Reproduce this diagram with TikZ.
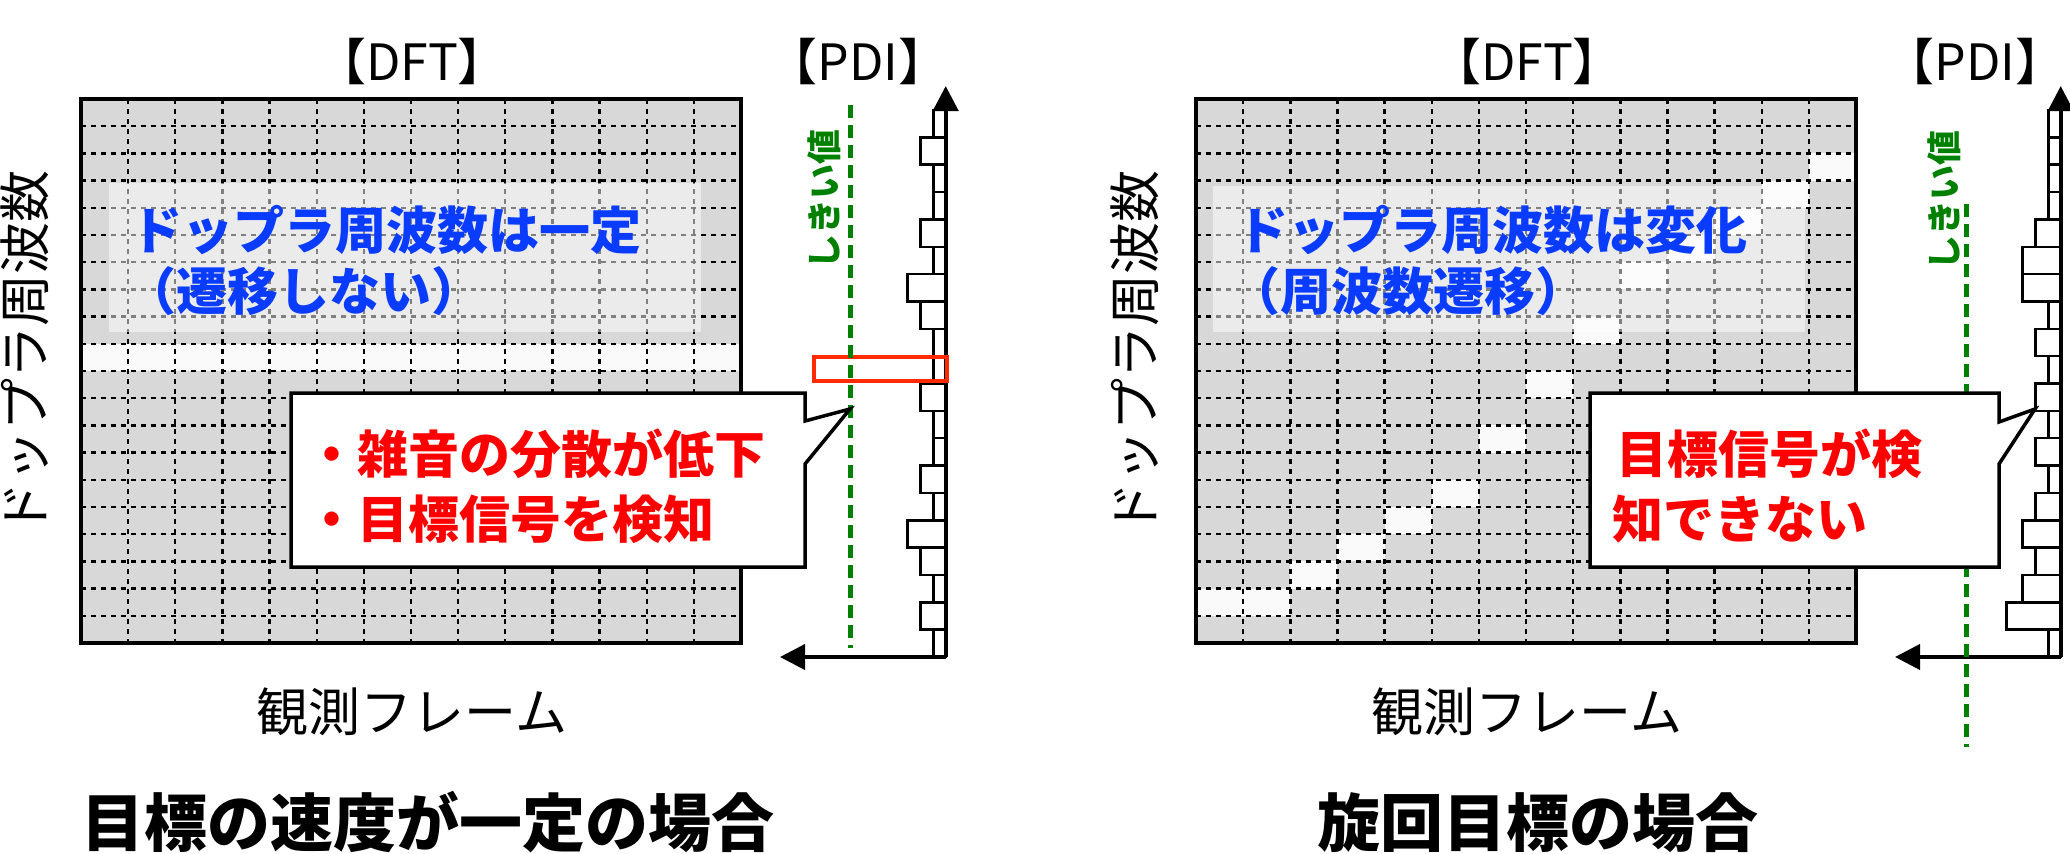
\documentclass[tikz,border=0pt]{standalone}
\usepackage{fontspec}
\setmainfont{Noto Sans CJK JP}
\usetikzlibrary{arrows.meta}
\definecolor{boxgray}{HTML}{D8D8D8}
\definecolor{cellwhite}{HTML}{FAFAFA}
\definecolor{txtblue}{HTML}{0A3CFF}
\definecolor{txtred}{HTML}{FF0000}
\definecolor{thrgreen}{HTML}{008000}
\definecolor{markred}{HTML}{FF2A00}
\begin{document}
\begin{tikzpicture}[x=1pt,y=-1pt,
  gridline/.style={black, line width=2.4pt, dash pattern=on 5pt off 5pt},
  boxframe/.style={draw=black, line width=4pt},
  overlay/.style={fill=white, fill opacity=0.5},
  whitecell/.style={fill=cellwhite},
  barbox/.style={draw=black, fill=white, line width=2.5pt},
  axisline/.style={line width=4pt, -{Triangle[length=25pt,width=25pt]}},
  thrline/.style={thrgreen, line width=5pt, dash pattern=on 13pt off 7pt},
  callout/.style={draw=black, fill=white, line width=3.5pt, line join=miter},
  marker/.style={draw=markred, line width=4pt},
  bluetxt/.style={text=txtblue, font=\bfseries\fontsize{51}{60}\selectfont, inner sep=0pt},
  redtxt/.style={text=txtred, font=\bfseries\fontsize{51}{60}\selectfont, inner sep=0pt},
  thrtxt/.style={text=thrgreen, font=\bfseries\fontsize{35}{40}\selectfont, inner sep=0pt, rotate=90},
  headtxt/.style={font=\fontsize{50}{56}\selectfont, inner sep=0pt},
  axtxt/.style={font=\fontsize{52}{60}\selectfont, inner sep=0pt},
  titletxt/.style={font=\bfseries\fontsize{63}{70}\selectfont, inner sep=0pt}
]
\useasboundingbox (0,0) rectangle (2070,854);

% ================= LEFT PANEL =================
\fill[boxgray] (81,99) rectangle (741,643);
\fill[whitecell] (81,{99+9*27.2}) rectangle (741,{99+10*27.2});
\foreach \i in {1,...,13} \draw[gridline] ({81+\i*660/14},99) -- ({81+\i*660/14},643);
\foreach \j in {1,...,19} \draw[gridline] (81,{99+\j*27.2}) -- (741,{99+\j*27.2});
\fill[overlay] (109,183) rectangle (701,332);
\draw[boxframe] (81,99) rectangle (741,643);

\node[bluetxt, anchor=base west] (LB1) at (131,249) {ドップラ周波数は一定};
\node[bluetxt, anchor=base west] (LB2) at (125,310) {（遷移しない）};

% PDI bars
\foreach \w [count=\k from 0] in {12,25,12,12,25,12,38,25,12,12,25,12,12,25,12,38,25,12,25,12}
  \draw[barbox] ({945.7-\w},{110+\k*27.35}) rectangle (945.7,{110+(\k+1)*27.35});
\coordinate (Lorig) at (945.7,657);
\coordinate (Lxtip) at (780,657);
\coordinate (Lytip) at (945.7,86);
\draw[axisline] (Lorig) -- (Lxtip);
\draw[axisline] (Lorig) -- (Lytip);
\draw[marker] (813.5,356.5) rectangle (946.5,380.5);
\coordinate (Lthr1) at (850,105);
\coordinate (Lthr2) at (850,648);
\draw[thrline] (Lthr1) -- (Lthr2);
\node[thrtxt] (Lthr) at (824,199) {しきい値};

\draw[callout] (291,393) -- (805,393) -- (805,421) -- (850,409) -- (805,464) -- (805,567) -- (291,567) -- cycle;
\node[redtxt, anchor=base west] (LR1) at (306,473) {・雑音の分散が低下};
\node[redtxt, anchor=base west] (LR2) at (306,538) {・目標信号を検知};

\node[headtxt, anchor=base] (LDFT) at (412,80) {【DFT】};
\node[headtxt, anchor=base] (LPDI) at (858,80) {【PDI】};
\node[axtxt, anchor=base] (LX) at (412,731) {観測フレーム};
\node[axtxt, rotate=90] (LY) at (25,352) {ドップラ周波数};
\node[titletxt, anchor=base] (LT) at (428,846) {目標の速度が一定の場合};

% ================= RIGHT PANEL =================
\begin{scope}[xshift=1115pt]
\fill[boxgray] (81,99) rectangle (741,643);
\foreach \c/\r in {0/18,1/18,2/17,3/16,4/15,5/14,6/12,7/10,8/8,9/6,10/5,11/4,12/3,13/2}
  \fill[whitecell] ({81+\c*660/14},{99+\r*27.2}) rectangle ({81+(\c+1)*660/14},{99+(\r+1)*27.2});
\foreach \i in {1,...,13} \draw[gridline] ({81+\i*660/14},99) -- ({81+\i*660/14},643);
\foreach \j in {1,...,19} \draw[gridline] (81,{99+\j*27.2}) -- (741,{99+\j*27.2});
\fill[overlay] (98,186) rectangle (690,332);
\draw[boxframe] (81,99) rectangle (741,643);

\node[bluetxt, anchor=base west] (RB1) at (122,249) {ドップラ周波数は変化};
\node[bluetxt, anchor=base west] (RB2) at (114,310) {（周波数遷移）};

\foreach \w [count=\k from 0] in {12,12,12,12,25,38,38,12,25,12,25,12,25,12,25,38,25,38,54,12}
  \draw[barbox] ({945.7-\w},{110+\k*27.35}) rectangle (945.7,{110+(\k+1)*27.35});
\coordinate (Rorig) at (945.7,657);
\coordinate (Rxtip) at (780,657);
\coordinate (Rytip) at (945.7,86);
\draw[axisline] (Rorig) -- (Rxtip);
\draw[axisline] (Rorig) -- (Rytip);
\coordinate (Rthr1) at (851,204);
\coordinate (Rthr2) at (851,747);
\draw[thrline] (Rthr1) -- (Rthr2);
\node[thrtxt] (Rthr) at (829,200) {しきい値};

\draw[callout] (475,393) -- (884,393) -- (884,422) -- (920,409) -- (884,464) -- (884,567) -- (475,567) -- cycle;
\node[redtxt, anchor=base west] (RR1) at (501,473) {目標信号が検};
\node[redtxt, anchor=base west] (RR2) at (497,538) {知できない};

\node[headtxt, anchor=base] (RDFT) at (412,80) {【DFT】};
\node[headtxt, anchor=base] (RPDI) at (860,80) {【PDI】};
\node[axtxt, anchor=base] (RX) at (412,731) {観測フレーム};
\node[axtxt, rotate=90] (RY) at (20,352) {ドップラ周波数};
\node[titletxt, anchor=base] (RT) at (423,846) {旋回目標の場合};
\end{scope}
\end{tikzpicture}
\end{document}
